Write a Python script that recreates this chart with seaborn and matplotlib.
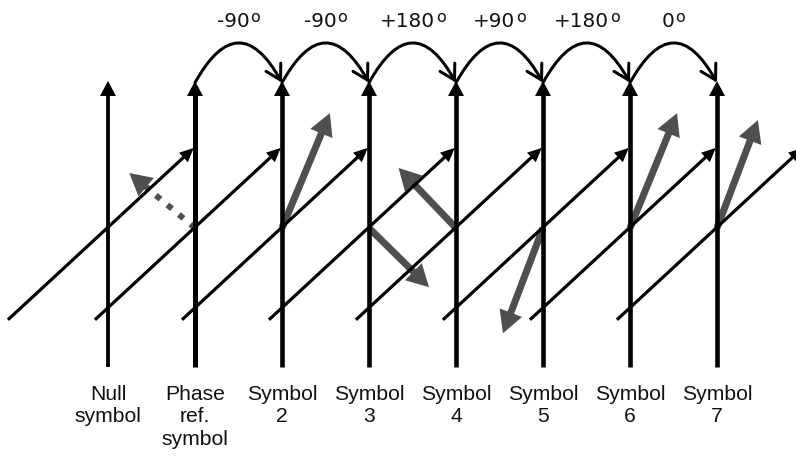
import numpy as np
import pandas as pd
import matplotlib
matplotlib.use("Agg")
import matplotlib.pyplot as plt
import seaborn as sns
from matplotlib.patches import FancyArrowPatch

# ---------------- data ----------------
symbol_labels = ["Null\nsymbol", "Phase\nref.\nsymbol", "Symbol\n2", "Symbol\n3",
                 "Symbol\n4", "Symbol\n5", "Symbol\n6", "Symbol\n7"]
phase_steps = ["-90", "-90", "+180", "+90", "+180", "0"]
# projected phasor components (horizontal, vertical) for each symbol; Null has none
phasor_x = [np.nan, -0.755, 0.55, 0.69, -0.66, -0.46, 0.54, 0.47]
phasor_y = [np.nan, 0.632, 1.32, -0.68, 0.69, -1.21, 1.32, 1.24]
phasor_dotted = [False, True, False, False, False, False, False, False]

# ---------------- layout ----------------
DPI = 100
W, H = 796, 457
PX = 87.0            # pixels per unit
OX, OY = 108.0, 228.0

sns.set_theme(style="white")
plt.rcParams['font.family'] = ['Liberation Sans', 'DejaVu Sans']

fig = plt.figure(figsize=(W / DPI, H / DPI), dpi=DPI)
ax = fig.add_axes([0, 0, 1, 1])
ax.set_xlim(-OX / PX, (W - OX) / PX)
ax.set_ylim(-(H - OY) / PX, OY / PX)
ax.axis('off')

GREY = '#4f4f4f'
TXT = '#111111'


def pt(px):
    return px * 72.0 / DPI


def head(x0, y0, x1, y1, color, hl_px, hw_px, z):
    d = np.hypot(x1 - x0, y1 - y0)
    ux, uy = (x1 - x0) / d, (y1 - y0) / d
    hl = hl_px / PX
    bx, by = x1 - ux * hl, y1 - uy * hl
    p = FancyArrowPatch((bx, by), (x1, y1),
                        arrowstyle=f"-|>,head_length={pt(hl_px) / 10:.3f},head_width={pt(hw_px / 2) / 10:.3f}",
                        mutation_scale=10, lw=0, color=color,
                        shrinkA=0, shrinkB=0, zorder=z)
    ax.add_patch(p)
    return bx + ux * 1.0 / PX, by + uy * 1.0 / PX


n = len(symbol_labels)
rows = []
AX_BOTTOM, AX_TIP = -1.598, 1.69
for k in range(n):
    kind = 'axis_null' if k == 0 else ('axis_ref' if k == 1 else 'axis')
    bx, by = head(k, AX_BOTTOM, k, AX_TIP, 'black', 15, 16, 4)
    rows += [dict(seg=f"v{k}", kind=kind, x=float(k), y=AX_BOTTOM),
             dict(seg=f"v{k}", kind=kind, x=bx, y=by)]
    x0, y0, x1, y1 = k - 1.15, -1.055, k + 0.985, 0.92
    bx, by = head(x0, y0, x1, y1, 'black', 14, 13, 5)
    rows += [dict(seg=f"d{k}", kind='diag', x=x0, y=y0),
             dict(seg=f"d{k}", kind='diag', x=bx, y=by)]
df = pd.DataFrame(rows)

widths = {'axis_null': pt(3.8), 'axis_ref': pt(5.0), 'axis': pt(4.6), 'diag': pt(3.2)}
zs = {'axis_null': 4, 'axis_ref': 4, 'axis': 4, 'diag': 5}
for kind, lw in widths.items():
    sub = df[df['kind'] == kind]
    sns.lineplot(data=sub, x='x', y='y', units='seg', estimator=None, sort=False,
                 color='black', lw=lw, ax=ax, legend=False, zorder=zs[kind],
                 solid_capstyle='butt')

# grey phasors
for k in range(n):
    if np.isnan(phasor_x[k]):
        continue
    x1, y1 = k + phasor_x[k], phasor_y[k]
    bx, by = head(k, 0.0, x1, y1, GREY, 22, 24, 2)
    if phasor_dotted[k]:
        ax.plot([k, bx], [0.0, by], color=GREY, lw=pt(6), ls=(0, (1, 1.5)),
                dash_capstyle='butt', zorder=2)
    else:
        ax.plot([k, bx], [0.0, by], color=GREY, lw=pt(7), solid_capstyle='butt', zorder=2)

# differential phase arcs and labels
renderer = fig.canvas.get_renderer()
ARC_Y = 1.67
LBL_Y = 2.307
TOP_FONT = ['DejaVu Sans']
for i, step in enumerate(phase_steps):
    k = i + 1
    arc = FancyArrowPatch((k, ARC_Y), (k + 1, ARC_Y),
                          connectionstyle="arc3,rad=-0.9",
                          arrowstyle="->,head_length=1.06,head_width=0.61",
                          mutation_scale=10, lw=pt(3), color='black',
                          shrinkA=0, shrinkB=0, zorder=6)
    ax.add_patch(arc)
    t_main = ax.text(0, LBL_Y, step, ha='left', va='baseline', fontsize=14.4,
                     family=TOP_FONT, color=TXT)
    t_deg = ax.text(0, LBL_Y + 4.8 / PX, "o", ha='left', va='baseline', fontsize=11.5,
                    family=TOP_FONT, color=TXT)
    w_main = t_main.get_window_extent(renderer).width / PX
    w_deg = t_deg.get_window_extent(renderer).width / PX
    gap = 1.0 / PX
    x_left = k + 0.5 - (w_main + gap + w_deg) / 2
    t_main.set_x(x_left)
    t_deg.set_x(x_left + w_main + gap)

# symbol labels
for k, lbl in enumerate(symbol_labels):
    ax.text(k, -1.80, lbl, ha='center', va='top', fontsize=15.2,
            linespacing=1.24, color=TXT)

fig.savefig('out.png', dpi=DPI)
